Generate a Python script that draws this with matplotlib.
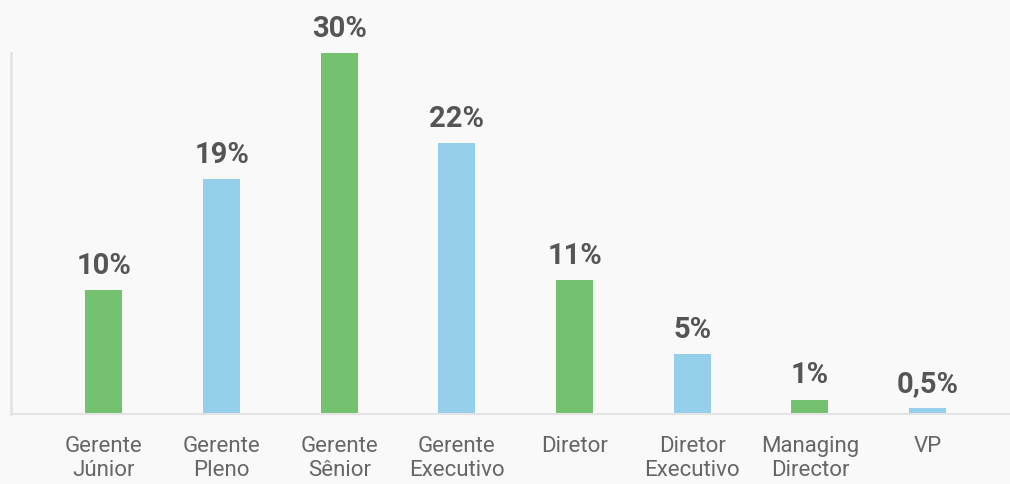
import matplotlib
matplotlib.use("Agg")
import matplotlib.pyplot as plt

# datos del grafico
cargos = ["Gerente\nJúnior", "Gerente\nPleno", "Gerente\nSênior", "Gerente\nExecutivo",
          "Diretor", "Diretor\nExecutivo", "Managing\nDirector", "VP"]
alturas = [10.3, 19.5, 30.0, 22.5, 11.1, 5.0, 1.2, 0.5]
etiquetas = ["10%", "19%", "30%", "22%", "11%", "5%", "1%", "0,5%"]

verde = "#74c16f"
azul = "#96cfeb"
colores = [verde if i % 2 == 0 else azul for i in range(len(cargos))]

plt.rcParams['font.family'] = ['Roboto', 'DejaVu Sans']

fig = plt.figure(figsize=(10.1, 4.85), dpi=100)
fig.patch.set_facecolor("#f9f9f9")
ax = fig.add_axes([11 / 1010, 70 / 485, 999 / 1010, 361 / 485])
ax.set_facecolor("#f9f9f9")

x = range(len(cargos))
barras = ax.bar(x, alturas, width=0.315, color=colores)

for b, txt in zip(barras, etiquetas):
    ax.annotate(txt, (b.get_x() + b.get_width() / 2, b.get_height()),
                xytext=(0, 8), textcoords="offset points", ha="center", va="bottom",
                fontsize=21, fontweight="bold", color="#555555", annotation_clip=False)

ax.set_xlim(-0.79, 7.7)
ax.set_ylim(0, 30)
ax.set_xticks(list(x))
ax.set_xticklabels(cargos, fontsize=16, color="#666666", linespacing=1.2)
ax.tick_params(axis="x", length=0, pad=15)
ax.set_yticks([])

for lado in ["top", "right"]:
    ax.spines[lado].set_visible(False)
ax.spines["left"].set_color("#e4e4e4")
ax.spines["left"].set_linewidth(2)
ax.spines["bottom"].set_color("#e4e4e4")
ax.spines["bottom"].set_linewidth(1.5)

fig.savefig("out.png", dpi=100, facecolor=fig.get_facecolor())
